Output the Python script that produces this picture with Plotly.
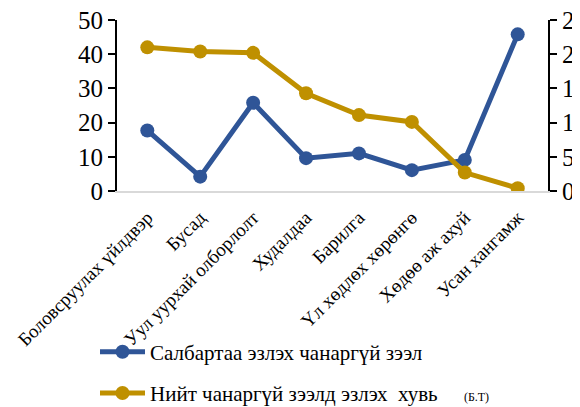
import plotly.graph_objects as go

categories = ["Боловсруулах үйлдвэр", "Бусад", "Уул уурхай олборлолт", "Худалдаа",
              "Барилга", "Үл хөдлөх хөрөнгө", "Хөдөө аж ахуй", "Усан хангамж"]
sector_share = [17.7, 4.2, 25.8, 9.6, 11.0, 6.1, 9.1, 45.8]
total_share = [21.0, 20.4, 20.2, 14.3, 11.1, 10.1, 2.7, 0.4]
left_ticks = [0, 10, 20, 30, 40, 50]
right_ticks = [0, 5, 10, 15, 20, 25]

BLUE = "#2F5597"
GOLD = "#BF9000"
FONT = "Liberation Serif, Times New Roman, serif"

fig = go.Figure()
fig.add_trace(go.Scatter(
    x=categories, y=sector_share, mode="lines+markers",
    name="Салбартаа эзлэх чанаргүй зээл",
    line=dict(color=BLUE, width=5), marker=dict(color=BLUE, size=14),
    legendgroup="a", yaxis="y"))
fig.add_trace(go.Scatter(
    x=categories, y=total_share, mode="lines+markers",
    name="Нийт чанаргүй зээлд эзлэх&nbsp; хувь&nbsp;&nbsp;&nbsp;&nbsp; <span style='font-size:12px'>(Б.Т)</span>",
    line=dict(color=GOLD, width=5), marker=dict(color=GOLD, size=14),
    legendgroup="b", yaxis="y2"))

fig.update_layout(
    width=580, height=407,
    margin=dict(l=109, r=40, t=12, b=224, autoexpand=False),
    paper_bgcolor="white", plot_bgcolor="white",
    font=dict(family=FONT, color="black"),
    showlegend=True,
    legend=dict(orientation="v", xref="container", yref="container",
                x=0.15, xanchor="left", y=0.205, yanchor="top",
                font=dict(family=FONT, size=21, color="black"),
                traceorder="grouped", tracegroupgap=11, bgcolor="rgba(0,0,0,0)",
                itemwidth=45),
    xaxis=dict(type="category", tickangle=-45, tickfont=dict(family=FONT, size=19),
               showline=True, linecolor="#d9d9d9", linewidth=2, showgrid=False,
               ticks="", ticklabelstandoff=6, automargin=False,
               ticklabeloverflow="allow"),
    yaxis=dict(range=[0, 50], tickvals=left_ticks, showgrid=False, zeroline=False,
               showline=True, linecolor="black", linewidth=2, ticks="outside",
               ticklen=7, tickwidth=2, tickcolor="black", automargin=False,
               ticklabeloverflow="allow",
               tickfont=dict(family=FONT, size=25)),
    yaxis2=dict(range=[0, 25], tickvals=right_ticks, overlaying="y", side="right",
                showgrid=False, zeroline=False, showline=True, linecolor="black",
                linewidth=2, ticks="outside", ticklen=7, tickwidth=2, tickcolor="black",
                automargin=False, ticklabeloverflow="allow", ticklabelstandoff=0,
                tickfont=dict(family=FONT, size=25)),
)

fig.write_html("out.html")
